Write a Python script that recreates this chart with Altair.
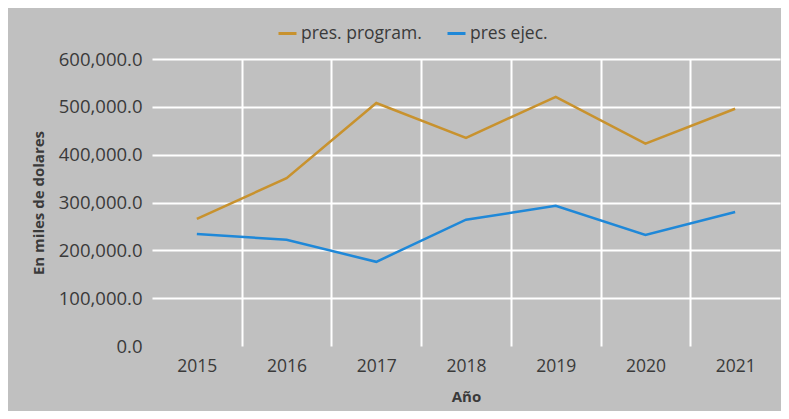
import altair as alt
import pandas as pd

years = ["2015", "2016", "2017", "2018", "2019", "2020", "2021"]
programado = [265700, 351000, 508000, 435000, 521000, 423000, 496000]
ejecutado = [234000, 222000, 176000, 264000, 293000, 232000, 280000]
series_names = ["pres. program.", "pres ejec."]
colors = ["#C8922E", "#1F88D8"]

rows = []
for name, vals in zip(series_names, [programado, ejecutado]):
    for y, v in zip(years, vals):
        rows.append({"Año": y, "valor": v, "serie": name})
df = pd.DataFrame(rows)

text_color = "#3A3A3A"
font = "Open Sans"

chart = alt.Chart(df).mark_line(strokeWidth=2.5).encode(
    x=alt.X(
        "Año:O",
        bandPosition=0.5,
        scale=alt.Scale(type="band", paddingInner=0, paddingOuter=0, domain=years),
        axis=alt.Axis(
            title="Año",
            labelAngle=0,
            tickBand="extent",
            grid=True,
            gridColor="white",
            gridWidth=2,
            gridOpacity=alt.condition("!datum.value || datum.value == '2021'", alt.value(0), alt.value(1)),
            domain=False,
            ticks=False,
            labelPadding=11,
            labelFontSize=17.5,
            labelColor=text_color,
            labelFont=font,
            titleFont=font,
            titleFontSize=15,
            titleFontWeight="bold",
            titleColor=text_color,
            titlePadding=15,
        ),
    ),
    y=alt.Y(
        "valor:Q",
        scale=alt.Scale(domain=[0, 600000]),
        axis=alt.Axis(
            title="En miles de dolares",
            values=[0, 100000, 200000, 300000, 400000, 500000, 600000],
            format=",.1f",
            grid=True,
            gridColor="white",
            gridWidth=2,
            gridOpacity=alt.condition("datum.value == 0", alt.value(0), alt.value(1)),
            domain=False,
            ticks=False,
            labelPadding=10,
            labelFontSize=18.5,
            labelColor=text_color,
            labelFont=font,
            titleFont=font,
            titleFontSize=15,
            titleFontWeight="bold",
            titleColor=text_color,
            titlePadding=12,
        ),
    ),
    color=alt.Color(
        "serie:N",
        scale=alt.Scale(domain=series_names, range=colors),
        legend=alt.Legend(
            title=None,
            orient="none",
            direction="horizontal",
            legendX=125,
            legendY=-36,
            symbolType="stroke",
            symbolSize=324,
            symbolStrokeWidth=3,
            labelOffset=3,
            columnPadding=19,
            labelFont=font,
            labelFontSize=17.5,
            labelColor=text_color,
        ),
    ),
).properties(
    width=628,
    height=287,
    autosize=alt.AutoSizeParams(type="none"),
    padding={"left": 144, "top": 51, "right": 1, "bottom": 65},
).configure(
    background="#C0C0C0",
).configure_view(
    stroke=None,
)

chart.save("out.html", embed_options={"renderer": "svg", "actions": False})
